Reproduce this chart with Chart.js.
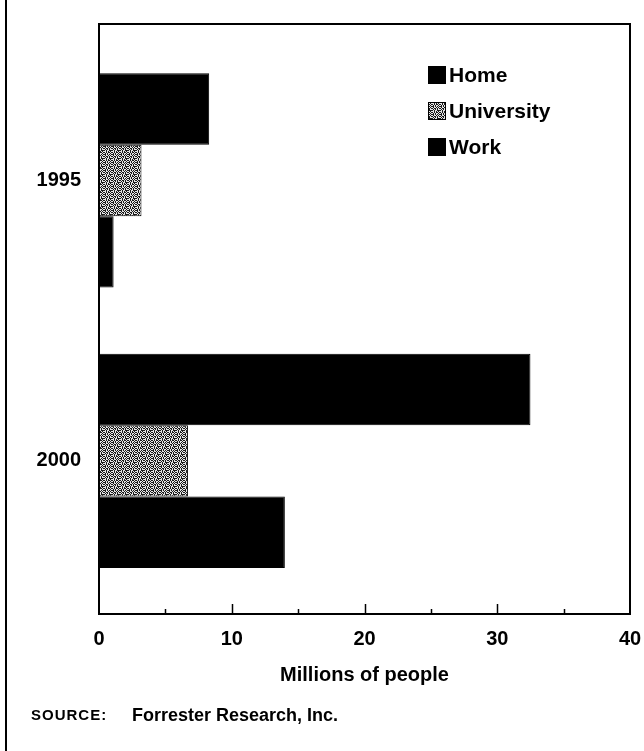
<!DOCTYPE html>
<html>
<head>
<meta charset="utf-8">
<title>Internet users</title>
<script src="https://cdn.jsdelivr.net/npm/chart.js@4/dist/chart.umd.min.js"></script>
<style>
  html, body { margin: 0; padding: 0; background: #fff; }
  #wrap { width: 644px; height: 751px; }
</style>
</head>
<body>
<div id="wrap"><canvas id="c" width="644" height="751"></canvas></div>
<script>
// Years shown on the vertical axis
const years = ['1995', '2000'];
// Millions of people by place of access
const homeUsers = [8.3, 32.5];
const universityUsers = [3.2, 6.7];
const workUsers = [1.1, 14.0];
// Horizontal axis ticks
const xTicks = [0, 10, 20, 30, 40];
const seriesNames = ['Home', 'University', 'Work'];

const FONT = '"Liberation Sans", Arial, Helvetica, sans-serif';

// Grey halftone used for the University bars
function halftone() {
  const rows = [
    'x.x.xx.x',
    '.x.x..x.',
    'xx.x.x.x',
    '.x..x.x.',
    'x.xx.x.x',
    '.x.x.x..',
    'x.x..xxx',
    '..x.x.x.'
  ];
  const t = document.createElement('canvas');
  t.width = 8; t.height = 8;
  const g = t.getContext('2d');
  g.fillStyle = '#e6e6e6';
  g.fillRect(0, 0, 8, 8);
  g.fillStyle = '#1a1a1a';
  rows.forEach((r, y) => {
    for (let x = 0; x < r.length; x++) if (r[x] === 'x') g.fillRect(x, y, 1, 1);
  });
  return g.createPattern(t, 'repeat');
}
const tone = halftone();

// Frame round the plot, inward ticks, page rule, legend and source line
const decor = {
  id: 'decor',
  afterDraw(chart) {
    const ctx = chart.ctx;
    const a = chart.chartArea;
    const xs = chart.scales.x;
    ctx.save();
    ctx.strokeStyle = '#000';
    ctx.lineWidth = 2;
    ctx.strokeRect(a.left, a.top, a.right - a.left, a.bottom - a.top);

    // inward ticks every 5 units
    ctx.lineWidth = 1.5;
    for (let v = 5; v < 40; v += 5) {
      const px = Math.round(xs.getPixelForValue(v)) + 0.5;
      const len = v % 10 === 0 ? 10 : 5;
      ctx.beginPath();
      ctx.moveTo(px, a.bottom);
      ctx.lineTo(px, a.bottom - len);
      ctx.stroke();
    }

    // page rule at the left edge
    ctx.lineWidth = 2;
    ctx.beginPath();
    ctx.moveTo(6, 0);
    ctx.lineTo(6, chart.height);
    ctx.stroke();

    // legend
    const lx = 428, ly = [75, 111, 147], sq = 18;
    chart.data.datasets.forEach((ds, i) => {
      ctx.fillStyle = ds.backgroundColor;
      ctx.fillRect(lx, ly[i] - sq / 2, sq, sq);
      ctx.lineWidth = 1;
      ctx.strokeStyle = '#000';
      ctx.strokeRect(lx + 0.5, ly[i] - sq / 2 + 0.5, sq - 1, sq - 1);
      ctx.fillStyle = '#000';
      ctx.font = 'bold 21px ' + FONT;
      ctx.textBaseline = 'middle';
      ctx.textAlign = 'left';
      ctx.fillText(ds.label, lx + sq + 3, ly[i] + 1);
    });

    // source line
    ctx.fillStyle = '#000';
    ctx.textBaseline = 'middle';
    ctx.font = 'bold 15px ' + FONT;
    ctx.letterSpacing = '1px';
    ctx.fillText('SOURCE:', 31, 716);
    ctx.letterSpacing = '0px';
    ctx.font = 'bold 18px ' + FONT;
    ctx.fillText('Forrester Research, Inc.', 132, 716);
    ctx.restore();
  }
};

new Chart(document.getElementById('c'), {
  type: 'bar',
  data: {
    labels: years,
    datasets: [
      { label: seriesNames[0], data: homeUsers, backgroundColor: '#000' },
      { label: seriesNames[1], data: universityUsers, backgroundColor: tone },
      { label: seriesNames[2], data: workUsers, backgroundColor: '#000' }
    ]
  },
  options: {
    indexAxis: 'y',
    responsive: false,
    animation: false,
    devicePixelRatio: 1,
    layout: { padding: { top: 24, left: 0, right: 14, bottom: 64 } },
    datasets: {
      bar: {
        categoryPercentage: 0.764,
        barPercentage: 1,
        borderColor: '#000',
        borderWidth: 1,
        borderSkipped: false
      }
    },
    plugins: {
      legend: { display: false },
      tooltip: { enabled: false },
      title: { display: false }
    },
    scales: {
      y: {
        type: 'linear',
        offset: false,
        reverse: true,
        min: 1992.21,
        max: 2002.73,
        afterBuildTicks: s => { s.ticks = years.map(y => ({ value: +y })); },
        afterFit: s => { s.width = 99; },
        grid: { display: false, offset: false },
        border: { display: false },
        ticks: {
          padding: 10,
          color: '#000',
          font: { family: FONT, size: 20, weight: 'bold' },
          callback: v => String(v)
        }
      },
      x: {
        type: 'linear',
        min: 0,
        max: 40,
        afterBuildTicks: s => { s.ticks = xTicks.map(v => ({ value: v })); },
        afterFit: s => { s.height = 73; s.paddingRight = 0; },
        grid: { display: false },
        border: { display: false },
        ticks: {
          padding: 5,
          color: '#000',
          font: { family: FONT, size: 20, weight: 'bold' }
        },
        title: {
          display: true,
          text: 'Millions of people',
          color: '#000',
          padding: { top: 8, bottom: 0 },
          font: { family: FONT, size: 20, weight: 'bold' }
        }
      }
    }
  },
  plugins: [decor]
});
</script>
</body>
</html>
